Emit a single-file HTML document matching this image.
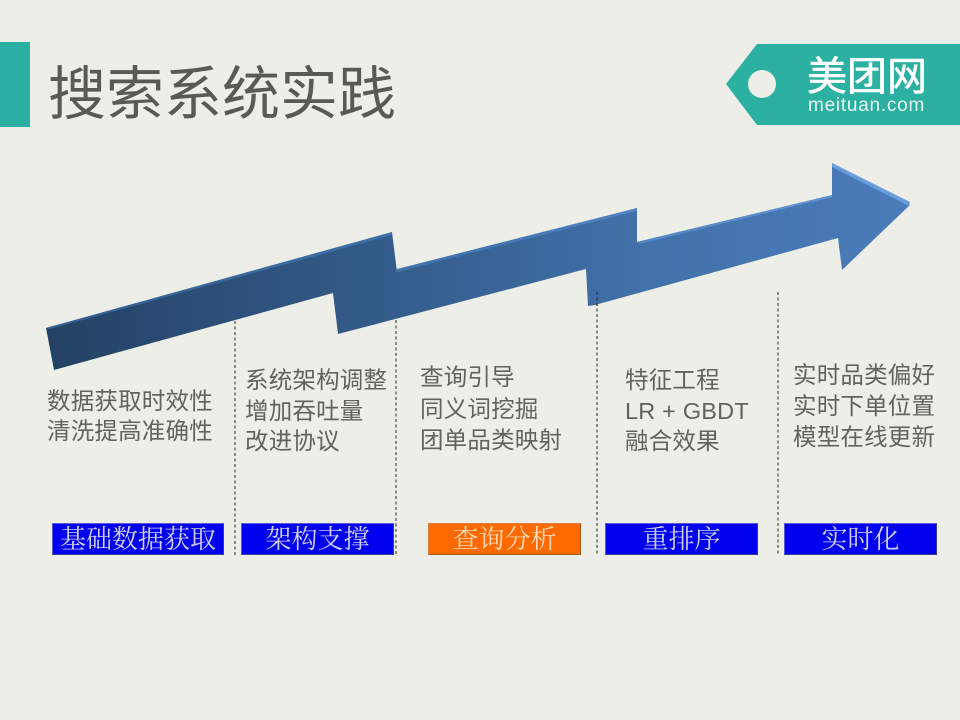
<!DOCTYPE html>
<html lang="zh"><head><meta charset="utf-8"><style>
html,body{margin:0;padding:0;width:960px;height:720px;overflow:hidden;background:#eeeee8}
svg{position:absolute;left:0;top:0;filter:blur(.35px)}
.t{position:absolute;white-space:nowrap;font-family:"Liberation Sans","Noto Sans CJK SC",sans-serif;color:#5f5f5b}
.b{font-size:23.5px;line-height:30.5px;letter-spacing:.2px;color:#62625e;font-family:"Liberation Sans","WenQuanYi Zen Hei","Noto Sans CJK SC",sans-serif}
.l{position:absolute;top:523px;height:32px;line-height:31px;box-sizing:border-box;text-align:center;color:#cfcff2;font-size:26px;font-family:"Liberation Serif","Noto Serif CJK SC",serif;background:#0000f0;border:1.5px solid #5a5ad8;border-bottom-color:#3a3a9a;border-right-color:#3a3a9a;white-space:nowrap}
</style></head><body>
<svg width="960" height="720" viewBox="0 0 960 720">
<defs>
<linearGradient id="g" gradientUnits="userSpaceOnUse" x1="46" y1="0" x2="910" y2="0">
<stop offset="0" stop-color="#234264"/><stop offset=".4" stop-color="#345c8c"/><stop offset=".7" stop-color="#4272aa"/><stop offset="1" stop-color="#4a7cba"/>
</linearGradient>
<linearGradient id="h" gradientUnits="userSpaceOnUse" x1="46" y1="0" x2="910" y2="0">
<stop offset="0" stop-color="#345f90"/><stop offset=".5" stop-color="#4276b0"/><stop offset="1" stop-color="#6a9cdc"/>
</linearGradient>
</defs>
<rect x="0" y="42" width="30" height="85" fill="#2ab0a2"/>
<polygon points="726,84 757,44 960,44 960,125 757,125" fill="#2bb0a2"/>
<circle cx="762" cy="84" r="14" fill="#eeeee8"/>
<g stroke="#4a4a46" stroke-width="1.2" stroke-dasharray="3 2.5" fill="none">
<line x1="235" y1="321" x2="235" y2="556"/>
<line x1="396" y1="320" x2="396" y2="556"/>
<line x1="597" y1="292" x2="597" y2="556"/>
<line x1="778" y1="292" x2="778" y2="556"/>
</g>
<polygon points="46,328 392,232 397,272 637,208 637,242 832,195 832,163 910,205 842,270 838,238 595,305 588,306 586,269 338,334 333,293 54,370" fill="url(#g)"/>
<polygon points="46,328 392,232 392,235 50,329" fill="url(#h)"/>
<polygon points="397,269 637,208 637,211 397,272" fill="url(#h)"/>
<polygon points="637,242 832,195 832,197 640,244" fill="url(#h)"/>
<polygon points="832,163 910,202 909,206 832,167" fill="#6a9cdc"/>
<line x1="597" y1="292" x2="597" y2="306" stroke="#333" stroke-width="1.2" stroke-dasharray="3 2.5"/>
</svg>
<div class="t" style="left:48px;top:51px;font-size:58px;line-height:76px;color:#595955;font-family:'WenQuanYi Zen Hei','Noto Sans CJK SC',sans-serif">搜索系统实践</div>
<div class="t" style="left:807px;top:54px;font-size:40px;line-height:46px;color:#fff;font-weight:400;-webkit-text-stroke:.6px #fff">美团网</div>
<div class="t" style="left:808px;top:95px;font-size:19px;line-height:22px;letter-spacing:.75px;color:#e8f6f3">meituan.com</div>
<div class="t b" style="left:47px;top:386px;line-height:30px">数据获取时效性<br>清洗提高准确性</div>
<div class="t b" style="left:245px;top:365px">系统架构调整<br>增加吞吐量<br>改进协议</div>
<div class="t b" style="left:420px;top:362px;line-height:31.5px">查询引导<br>同义词挖掘<br>团单品类映射</div>
<div class="t b" style="left:625px;top:365px">特征工程<br>LR + GBDT<br>融合效果</div>
<div class="t b" style="left:793px;top:360px;line-height:31px">实时品类偏好<br>实时下单位置<br>模型在线更新</div>
<div class="l" style="left:52px;width:172px">基础数据获取</div>
<div class="l" style="left:241px;width:153px">架构支撑</div>
<div class="l" style="left:428px;width:153px;background:#ff6a00;border-color:#e08040 #a85a20 #a85a20 #e08040;color:#ffd8b8">查询分析</div>
<div class="l" style="left:605px;width:153px">重排序</div>
<div class="l" style="left:784px;width:153px">实时化</div>
</body></html>
